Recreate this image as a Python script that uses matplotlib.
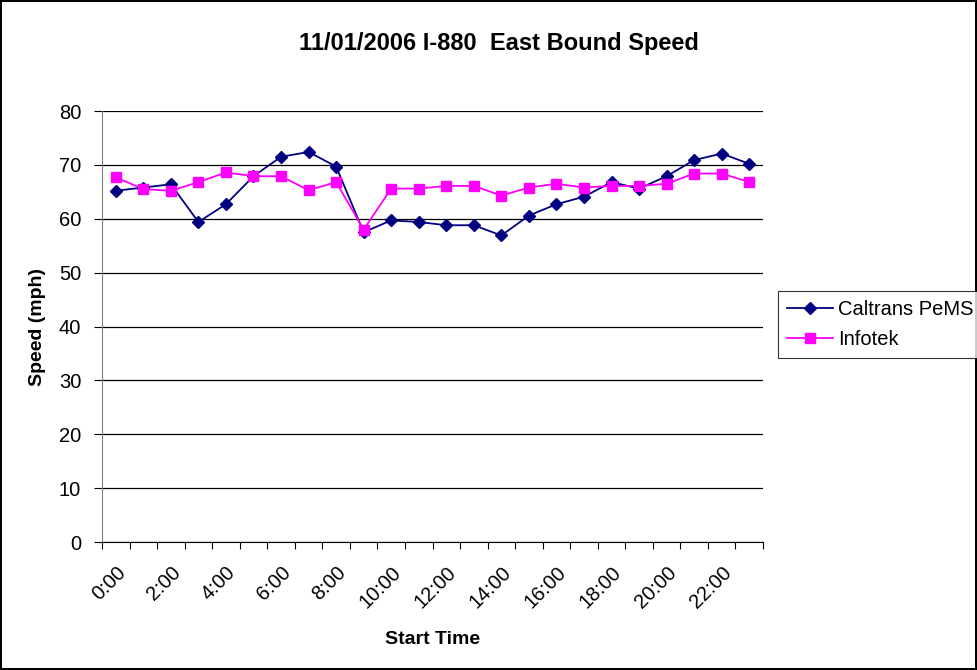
import numpy as np
import matplotlib.pyplot as plt

plt.rcParams['font.family'] = ['Liberation Sans', 'DejaVu Sans']

# hourly start times
hours = [f"{h}:00" for h in range(24)]
caltrans = [65.2, 65.8, 66.4, 59.4, 62.7, 67.9, 71.5, 72.4, 69.7, 57.5, 59.7, 59.4,
            58.8, 58.8, 56.9, 60.6, 62.7, 64.1, 66.8, 65.6, 67.9, 70.9, 72.1, 70.2]
infotek = [67.7, 65.5, 65.2, 66.8, 68.6, 67.9, 67.9, 65.3, 66.8, 58.0, 65.6, 65.6,
           66.1, 66.1, 64.3, 65.8, 66.5, 65.8, 66.1, 66.1, 66.5, 68.4, 68.4, 66.8]

fig = plt.figure(figsize=(9.77, 6.7), dpi=100, linewidth=1.5, edgecolor='black')
ax = fig.add_axes([0.1044, 0.191, 0.6766, 0.6433])

x = np.arange(len(hours)) + 0.5
ax.plot(x, caltrans, color='#000080', marker='D', markersize=6, linewidth=1.3,
        label='Caltrans PeMS')
ax.plot(x, infotek, color='#FF00FF', marker='s', markersize=7, linewidth=1.3,
        label='Infotek')

ax.set_xlim(0, 24)
ax.set_ylim(0, 80)
ax.set_yticks(range(0, 81, 10))
ax.yaxis.grid(True, color='black', linewidth=0.9)
ax.set_axisbelow(True)

# tick marks between categories, labels every other hour
ax.set_xticks(range(25))
ax.set_xticklabels([])
ax.set_xticks(x[::2], minor=True)
ax.set_xticklabels(hours[::2], minor=True, rotation=45, ha='right',
                   rotation_mode='anchor', fontsize=14.5)
ax.tick_params(axis='x', which='minor', length=0, pad=15)
ax.tick_params(axis='x', which='major', length=5, color='black')
ax.tick_params(axis='y', labelsize=14.5, length=6, pad=9)

for s in ['top', 'right']:
    ax.spines[s].set_visible(False)
ax.spines['left'].set_color('#808080')
ax.spines['bottom'].set_color('black')

ax.set_xlabel('Start Time', fontsize=14, fontweight='bold', labelpad=14)
ax.set_ylabel('Speed (mph)', fontsize=14, fontweight='bold', labelpad=9)
fig.suptitle('11/01/2006 I-880  East Bound Speed', fontsize=17, fontweight='bold',
             x=0.511, y=0.952)

leg = fig.legend(loc='upper left', bbox_to_anchor=(0.796, 0.566), fontsize=14.5,
                 frameon=True, fancybox=False, edgecolor='black',
                 handlelength=2.3, borderpad=0.45, labelspacing=0.55, handletextpad=0.25,
                 borderaxespad=0.0)
leg.get_frame().set_linewidth(0.8)

fig.savefig('out.png', dpi=100)
